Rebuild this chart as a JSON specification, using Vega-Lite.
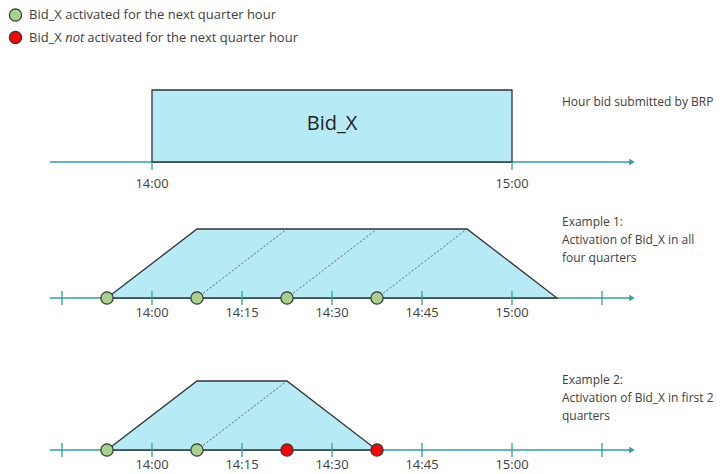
{
  "$schema": "https://vega.github.io/schema/vega-lite/v6.json",
  "width": 726,
  "height": 474,
  "padding": 0,
  "autosize": {"type": "fit", "contains": "padding"},
  "background": "white",
  "config": {"view": {"stroke": null}, "font": "Open Sans"},
  "datasets": {
    "axes": [
      {"v": 162, "x0": -17, "x1": 80},
      {"v": 298, "x0": -17, "x1": 80},
      {"v": 450, "x0": -17, "x1": 80}
    ],
    "ticks": [
      {"m": 0, "v0": 162, "v1": 170},
      {"m": 60, "v0": 162, "v1": 170},
      {"m": -15, "v0": 291, "v1": 305},
      {"m": 0, "v0": 291, "v1": 305},
      {"m": 15, "v0": 291, "v1": 305},
      {"m": 30, "v0": 291, "v1": 305},
      {"m": 45, "v0": 291, "v1": 305},
      {"m": 60, "v0": 291, "v1": 305},
      {"m": 75, "v0": 291, "v1": 305},
      {"m": -15, "v0": 443, "v1": 457},
      {"m": 0, "v0": 443, "v1": 457},
      {"m": 15, "v0": 443, "v1": 457},
      {"m": 30, "v0": 443, "v1": 457},
      {"m": 45, "v0": 443, "v1": 457},
      {"m": 60, "v0": 443, "v1": 457},
      {"m": 75, "v0": 443, "v1": 457}
    ],
    "bar": [{"x0": 0, "x1": 60, "v0": 90, "v1": 162}],
    "trap": [
      {"ex": "1", "m": -7.5, "v": 298, "base": 298},
      {"ex": "1", "m": 7.5, "v": 229, "base": 298},
      {"ex": "1", "m": 52.5, "v": 229, "base": 298},
      {"ex": "1", "m": 67.5, "v": 298, "base": 298},
      {"ex": "2", "m": -7.5, "v": 450, "base": 450},
      {"ex": "2", "m": 7.5, "v": 381, "base": 450},
      {"ex": "2", "m": 22.5, "v": 381, "base": 450},
      {"ex": "2", "m": 37.5, "v": 450, "base": 450}
    ],
    "dash": [
      {"x0": 7.5, "x1": 22.5, "v0": 298, "v1": 229},
      {"x0": 22.5, "x1": 37.5, "v0": 298, "v1": 229},
      {"x0": 37.5, "x1": 52.5, "v0": 298, "v1": 229},
      {"x0": 7.5, "x1": 22.5, "v0": 450, "v1": 381}
    ],
    "dots": [
      {"m": -22.75, "v": 15, "status": "activated"},
      {"m": -22.75, "v": 37.5, "status": "not activated"},
      {"m": -7.5, "v": 298, "status": "activated"},
      {"m": 7.5, "v": 298, "status": "activated"},
      {"m": 22.5, "v": 298, "status": "activated"},
      {"m": 37.5, "v": 298, "status": "activated"},
      {"m": -7.5, "v": 450, "status": "activated"},
      {"m": 7.5, "v": 450, "status": "activated"},
      {"m": 22.5, "v": 450, "status": "not activated"},
      {"m": 37.5, "v": 450, "status": "not activated"}
    ],
    "ticklabels": [
      {"m": 0, "v": 184, "t": "14:00"},
      {"m": 60, "v": 184, "t": "15:00"},
      {"m": 0, "v": 313, "t": "14:00"},
      {"m": 15, "v": 313, "t": "14:15"},
      {"m": 30, "v": 313, "t": "14:30"},
      {"m": 45, "v": 313, "t": "14:45"},
      {"m": 60, "v": 313, "t": "15:00"},
      {"m": 0, "v": 465, "t": "14:00"},
      {"m": 15, "v": 465, "t": "14:15"},
      {"m": 30, "v": 465, "t": "14:30"},
      {"m": 45, "v": 465, "t": "14:45"},
      {"m": 60, "v": 465, "t": "15:00"}
    ],
    "notes": [
      {"m": 68.33, "v": 102, "t": "Hour bid submitted by BRP"},
      {"m": 68.33, "v": 222, "t": "Example 1:"},
      {"m": 68.33, "v": 240, "t": "Activation of Bid_X in all"},
      {"m": 68.33, "v": 258, "t": "four quarters"},
      {"m": 68.33, "v": 380, "t": "Example 2:"},
      {"m": 68.33, "v": 398, "t": "Activation of Bid_X in first 2"},
      {"m": 68.33, "v": 416, "t": "quarters"}
    ],
    "legendtext": [
      {"m": -20.5, "v": 15, "t": "Bid_X activated for the next quarter hour"},
      {"m": -20.5, "v": 37.5, "t": "Bid_X"},
      {"m": -10.8, "v": 37.5, "t": "activated for the next quarter hour"}
    ],
    "italic": [{"m": -14.45, "v": 37.5, "t": "not"}],
    "title": [{"m": 30, "v": 124, "t": "Bid_X"}]
  },
  "encoding": {
    "x": {"type": "quantitative", "scale": {"domain": [-25.333, 95.667], "nice": false, "zero": false}, "axis": null},
    "y": {"type": "quantitative", "scale": {"domain": [0, 474], "nice": false, "zero": false, "reverse": true}, "axis": null}
  },
  "layer": [
    {
      "data": {"name": "axes"},
      "mark": {"type": "rule", "color": "#2f9fa3", "strokeWidth": 1.5},
      "encoding": {"x": {"field": "x0"}, "x2": {"field": "x1"}, "y": {"field": "v"}}
    },
    {
      "data": {"name": "axes"},
      "mark": {"type": "point", "shape": "triangle-right", "filled": true, "color": "#2f9fa3", "opacity": 1, "size": 40},
      "encoding": {"x": {"field": "x1"}, "y": {"field": "v"}}
    },
    {
      "data": {"name": "bar"},
      "mark": {"type": "rect", "fill": "#b6ebf5", "stroke": "#333333", "strokeWidth": 1.3},
      "encoding": {"x": {"field": "x0"}, "x2": {"field": "x1"}, "y": {"field": "v0"}, "y2": {"field": "v1"}}
    },
    {
      "data": {"name": "trap"},
      "mark": {"type": "area", "fill": "#b6ebf5", "fillOpacity": 1, "stroke": "#333333", "strokeWidth": 1.3},
      "encoding": {"x": {"field": "m"}, "y": {"field": "v"}, "y2": {"field": "base"}, "detail": {"field": "ex"}}
    },
    {
      "data": {"name": "ticks"},
      "mark": {"type": "rule", "color": "#2f9fa3", "strokeWidth": 1.3},
      "encoding": {"x": {"field": "m"}, "y": {"field": "v0"}, "y2": {"field": "v1"}}
    },
    {
      "data": {"name": "dash"},
      "mark": {"type": "rule", "color": "#555555", "strokeWidth": 0.9, "strokeDash": [2, 2]},
      "encoding": {"x": {"field": "x0"}, "x2": {"field": "x1"}, "y": {"field": "v0"}, "y2": {"field": "v1"}}
    },
    {
      "data": {"name": "dots"},
      "mark": {"type": "point", "shape": "circle", "filled": true, "size": 150, "opacity": 1, "stroke": "#333333", "strokeWidth": 1.2},
      "encoding": {
        "x": {"field": "m"}, "y": {"field": "v"},
        "fill": {"field": "status", "type": "nominal", "scale": {"domain": ["activated", "not activated"], "range": ["#a9d18e", "#ff0000"]}, "legend": null}
      }
    },
    {
      "data": {"name": "ticklabels"},
      "mark": {"type": "text", "fontSize": 13, "color": "#404040", "align": "center", "baseline": "middle"},
      "encoding": {"x": {"field": "m"}, "y": {"field": "v"}, "text": {"field": "t"}}
    },
    {
      "data": {"name": "notes"},
      "mark": {"type": "text", "fontSize": 12, "color": "#404040", "align": "left", "baseline": "middle"},
      "encoding": {"x": {"field": "m"}, "y": {"field": "v"}, "text": {"field": "t"}}
    },
    {
      "data": {"name": "legendtext"},
      "mark": {"type": "text", "fontSize": 13, "color": "#404040", "align": "left", "baseline": "middle"},
      "encoding": {"x": {"field": "m"}, "y": {"field": "v"}, "text": {"field": "t"}}
    },
    {
      "data": {"name": "italic"},
      "mark": {"type": "text", "fontSize": 13, "fontStyle": "italic", "color": "#404040", "align": "left", "baseline": "middle"},
      "encoding": {"x": {"field": "m"}, "y": {"field": "v"}, "text": {"field": "t"}}
    },
    {
      "data": {"name": "title"},
      "mark": {"type": "text", "fontSize": 20, "color": "#222222", "align": "center", "baseline": "middle"},
      "encoding": {"x": {"field": "m"}, "y": {"field": "v"}, "text": {"field": "t"}}
    }
  ]
}
